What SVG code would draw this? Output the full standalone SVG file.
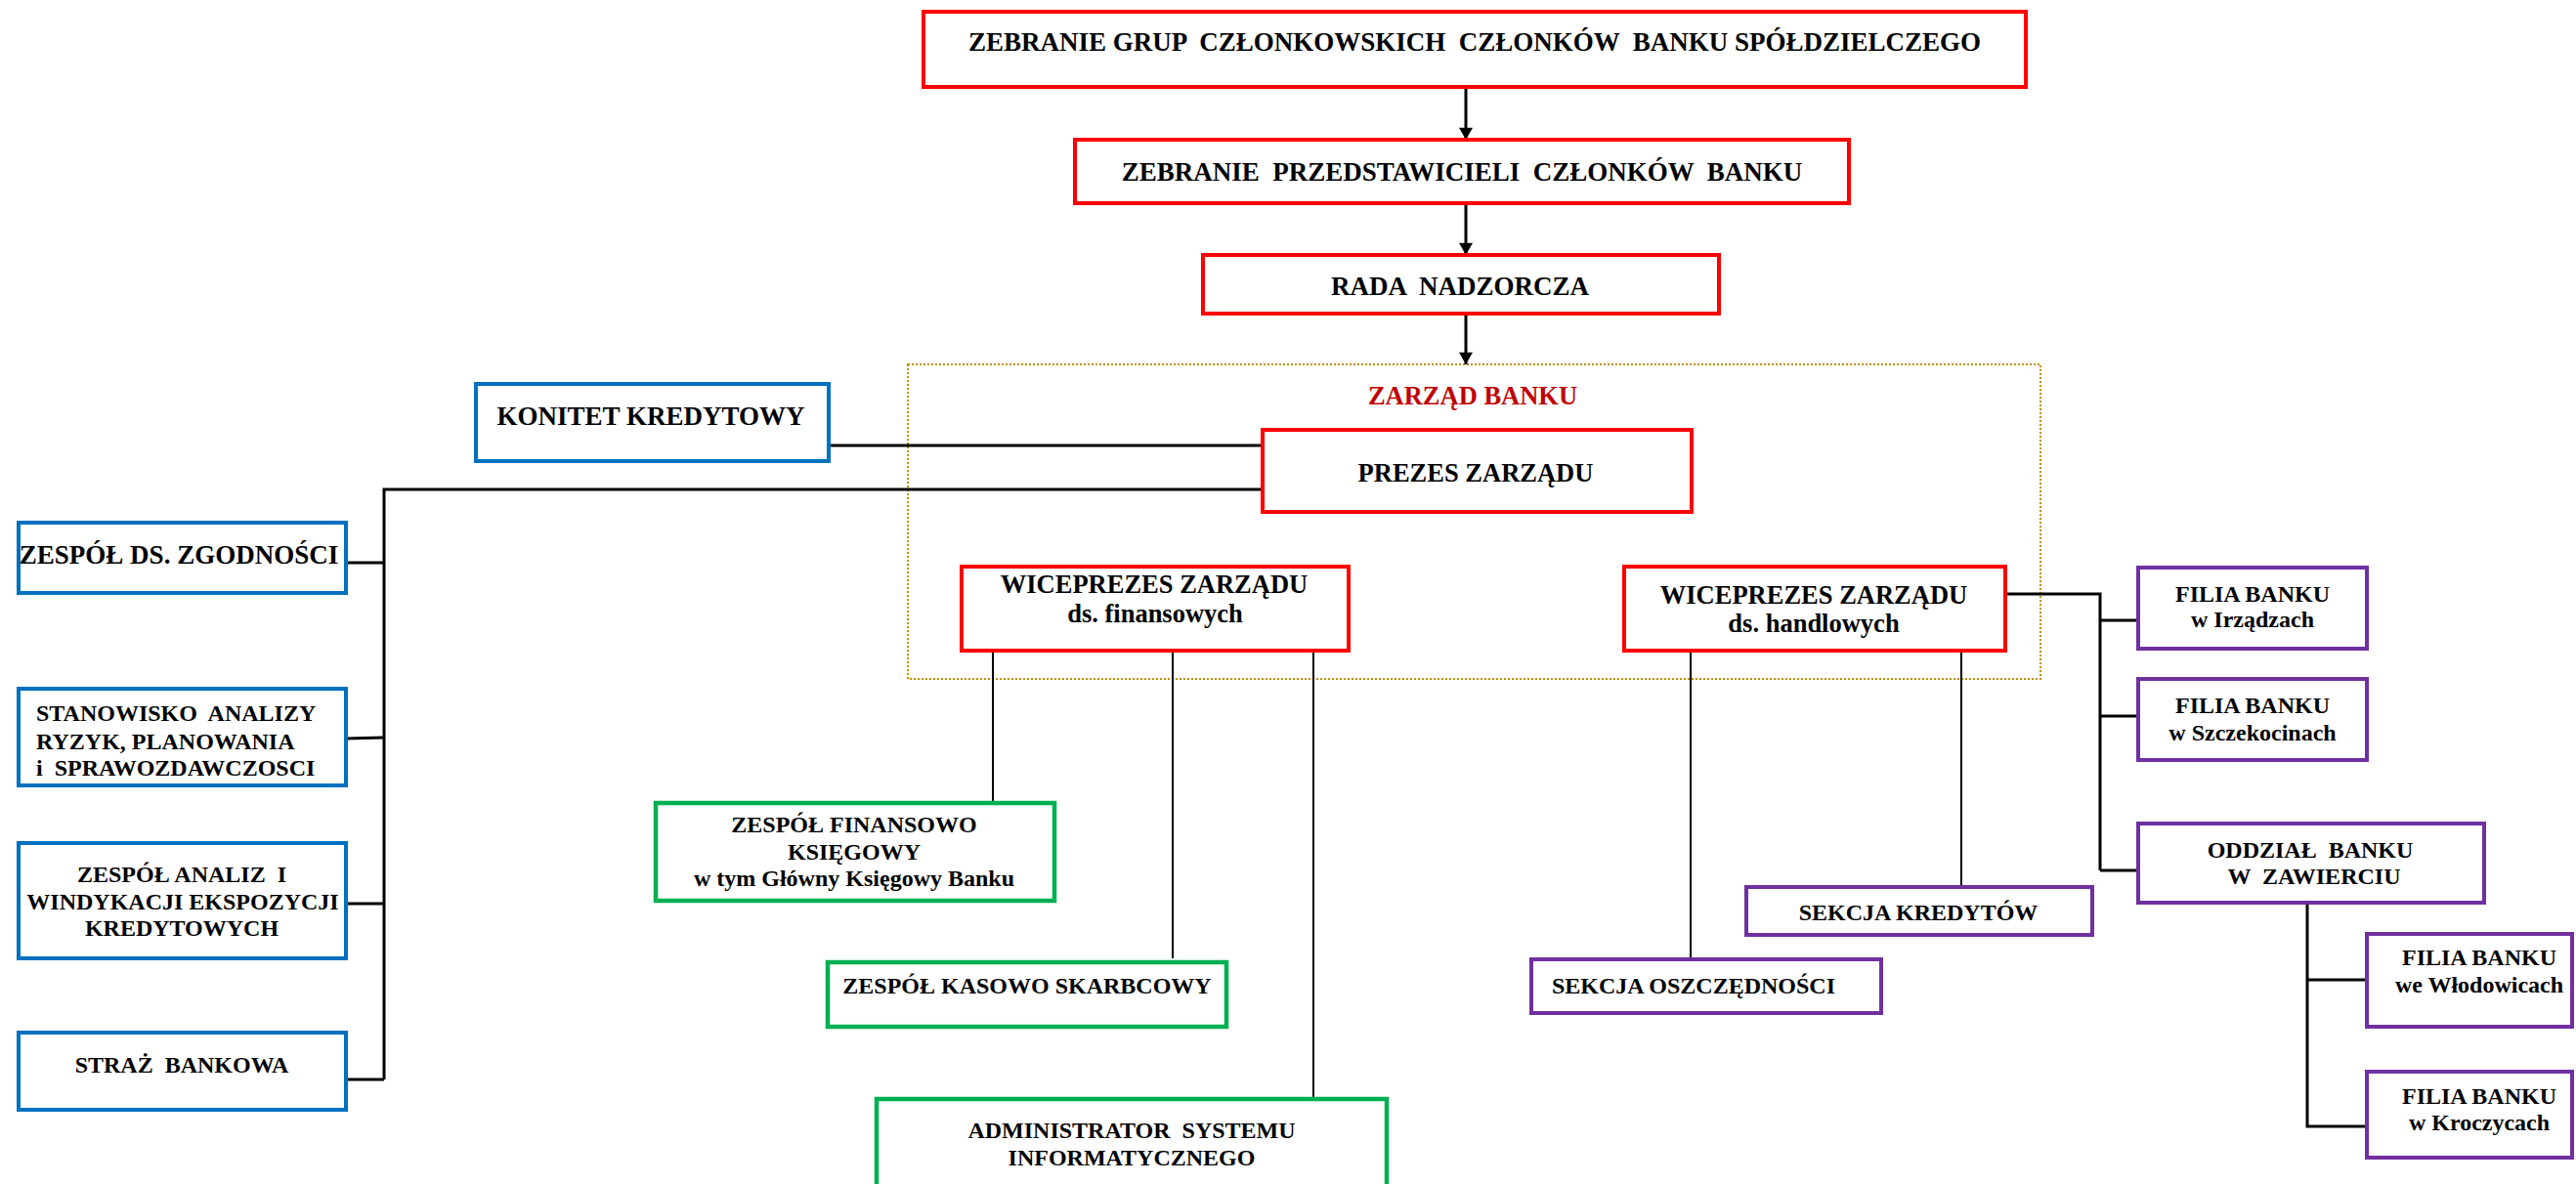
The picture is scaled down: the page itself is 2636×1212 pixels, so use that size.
<svg xmlns="http://www.w3.org/2000/svg" width="2636" height="1212" viewBox="0 0 2636 1212">
<style>
text{font-family:"Liberation Serif","Times New Roman",serif;font-weight:bold;fill:#000;text-anchor:middle;white-space:pre}
.t27{font-size:27px}
.t26{font-size:26.5px}
.t24{font-size:24px}
.red{fill:#fff;stroke:#ff0000;stroke-width:4}
.blue{fill:#fff;stroke:#0070c0;stroke-width:4}
.green{fill:#fff;stroke:#00b050;stroke-width:4.5}
.purple{fill:#fff;stroke:#7030a0;stroke-width:4}
.dot{fill:none;stroke:#bf9000;stroke-width:2;stroke-dasharray:2 2}
.c3{fill:none;stroke:#000;stroke-width:3}
.c2{fill:none;stroke:#000;stroke-width:2}
</style>
<defs>
<marker id="arr" viewBox="0 0 14 16" refX="14" refY="8" markerWidth="16" markerHeight="14" markerUnits="userSpaceOnUse" orient="auto">
<path d="M0,0 L14,8 L0,16 Z" fill="#000"/>
</marker>
</defs>
<rect width="2636" height="1212" fill="#fff"/>

<g id="zarzad-frame">
<rect class="dot" x="929" y="373" width="1159" height="322"/>
<text x="1507" y="414" class="t26" style="fill:#c00000">ZARZĄD BANKU</text>
</g>

<g id="connectors">
<line class="c3" x1="1500" y1="89" x2="1500" y2="143" marker-end="url(#arr)"/>
<line class="c3" x1="1500" y1="208" x2="1500" y2="261" marker-end="url(#arr)"/>
<line class="c3" x1="1500" y1="321" x2="1500" y2="373" marker-end="url(#arr)"/>
<line class="c3" x1="848" y1="456" x2="1292" y2="456"/>
<path class="c3" d="M1292,501 H393 V1105"/>
<line class="c3" x1="354" y1="576" x2="393" y2="576"/>
<line class="c3" x1="354" y1="756" x2="393" y2="755"/>
<line class="c3" x1="354" y1="925" x2="393" y2="925"/>
<line class="c3" x1="354" y1="1105" x2="393" y2="1105"/>
<line class="c2" x1="1016" y1="666" x2="1016" y2="822"/>
<line class="c2" x1="1200" y1="666" x2="1200" y2="981"/>
<line class="c2" x1="1344" y1="666" x2="1344" y2="1125"/>
<line class="c2" x1="1730" y1="666" x2="1730" y2="982"/>
<line class="c2" x1="2007" y1="666" x2="2007" y2="908"/>
<path class="c3" d="M2052,608 H2149 V891"/>
<line class="c3" x1="2149" y1="635" x2="2188" y2="635"/>
<line class="c3" x1="2149" y1="733" x2="2188" y2="733"/>
<line class="c3" x1="2149" y1="891" x2="2188" y2="891"/>
<path class="c3" d="M2361,924 V1153 H2422"/>
<line class="c3" x1="2361" y1="1003" x2="2422" y2="1003"/>
</g>

<g id="zebranie-grup">
<rect class="red" x="945" y="12" width="1128" height="77"/>
<text x="1509" y="52" class="t27">ZEBRANIE GRUP  CZŁONKOWSKICH  CZŁONKÓW  BANKU SPÓŁDZIELCZEGO</text>
</g>
<g id="zebranie-przedstawicieli">
<rect class="red" x="1100" y="143" width="792" height="65"/>
<text x="1496" y="185" class="t27">ZEBRANIE  PRZEDSTAWICIELI  CZŁONKÓW  BANKU</text>
</g>
<g id="rada">
<rect class="red" x="1231" y="261" width="528" height="60"/>
<text x="1494" y="302" class="t27">RADA  NADZORCZA</text>
</g>
<g id="komitet">
<rect class="blue" x="487" y="393" width="361" height="79"/>
<text x="666" y="435" class="t27">KONITET KREDYTOWY</text>
</g>
<g id="prezes">
<rect class="red" x="1292" y="440" width="439" height="84"/>
<text x="1510" y="493" class="t26">PREZES ZARZĄDU</text>
</g>
<g id="wice-fin">
<rect class="red" x="984" y="580" width="396" height="86"/>
<text x="1181" y="607" class="t26">WICEPREZES ZARZĄDU</text>
<text x="1182" y="637" class="t26">ds. finansowych</text>
</g>
<g id="wice-handl">
<rect class="red" x="1662" y="580" width="390" height="86"/>
<text x="1856" y="618" class="t26">WICEPREZES ZARZĄDU</text>
<text x="1856" y="647" class="t26">ds. handlowych</text>
</g>
<g id="zgodnosc">
<rect class="blue" x="19" y="535" width="335" height="72"/>
<text x="183" y="577" class="t27">ZESPÓŁ DS. ZGODNOŚCI</text>
</g>
<g id="stanowisko">
<rect class="blue" x="19" y="705" width="335" height="99"/>
<text x="37" y="738" class="t24" style="text-anchor:start">STANOWISKO  ANALIZY</text>
<text x="37" y="767" class="t24" style="text-anchor:start">RYZYK, PLANOWANIA</text>
<text x="37" y="794" class="t24" style="text-anchor:start">i  SPRAWOZDAWCZOSCI</text>
</g>
<g id="analizy">
<rect class="blue" x="19" y="863" width="335" height="118"/>
<text x="186" y="903" class="t24">ZESPÓŁ ANALIZ  I</text>
<text x="187" y="931" class="t24">WINDYKACJI EKSPOZYCJI</text>
<text x="186" y="958" class="t24">KREDYTOWYCH</text>
</g>
<g id="straz">
<rect class="blue" x="19" y="1057" width="335" height="79"/>
<text x="186" y="1098" class="t24">STRAŻ  BANKOWA</text>
</g>
<g id="finansowo">
<rect class="green" x="671" y="822" width="408" height="100"/>
<text x="874" y="852" class="t24">ZESPÓŁ FINANSOWO</text>
<text x="874" y="880" class="t24">KSIĘGOWY</text>
<text x="874" y="907" class="t24">w tym Główny Księgowy Banku</text>
</g>
<g id="kasowo">
<rect class="green" x="847" y="985" width="408" height="66"/>
<text x="1051" y="1017" class="t24">ZESPÓŁ KASOWO SKARBCOWY</text>
</g>
<g id="admin">
<rect class="green" x="897" y="1125" width="522" height="115"/>
<text x="1158" y="1165" class="t24">ADMINISTRATOR  SYSTEMU</text>
<text x="1158" y="1193" class="t24">INFORMATYCZNEGO</text>
</g>
<g id="sekcja-kredytow">
<rect class="purple" x="1787" y="908" width="354" height="49"/>
<text x="1963" y="942" class="t24">SEKCJA KREDYTÓW</text>
</g>
<g id="sekcja-oszczednosci">
<rect class="purple" x="1567" y="982" width="358" height="55"/>
<text x="1733" y="1017" class="t24">SEKCJA OSZCZĘDNOŚCI</text>
</g>
<g id="filia-irzadze">
<rect class="purple" x="2188" y="581" width="234" height="83"/>
<text x="2305" y="616" class="t24">FILIA BANKU</text>
<text x="2305" y="642" class="t24">w Irządzach</text>
</g>
<g id="filia-szczekociny">
<rect class="purple" x="2188" y="695" width="234" height="83"/>
<text x="2305" y="730" class="t24">FILIA BANKU</text>
<text x="2305" y="758" class="t24">w Szczekocinach</text>
</g>
<g id="oddzial">
<rect class="purple" x="2188" y="843" width="354" height="81"/>
<text x="2364" y="878" class="t24">ODDZIAŁ  BANKU</text>
<text x="2368" y="905" class="t24">W  ZAWIERCIU</text>
</g>
<g id="filia-wlodowice">
<rect class="purple" x="2422" y="956" width="210" height="95"/>
<text x="2537" y="988" class="t24">FILIA BANKU</text>
<text x="2537" y="1016" class="t24">we Włodowicach</text>
</g>
<g id="filia-kroczyce">
<rect class="purple" x="2422" y="1097" width="210" height="88"/>
<text x="2537" y="1130" class="t24">FILIA BANKU</text>
<text x="2537" y="1157" class="t24">w Kroczycach</text>
</g>
</svg>
